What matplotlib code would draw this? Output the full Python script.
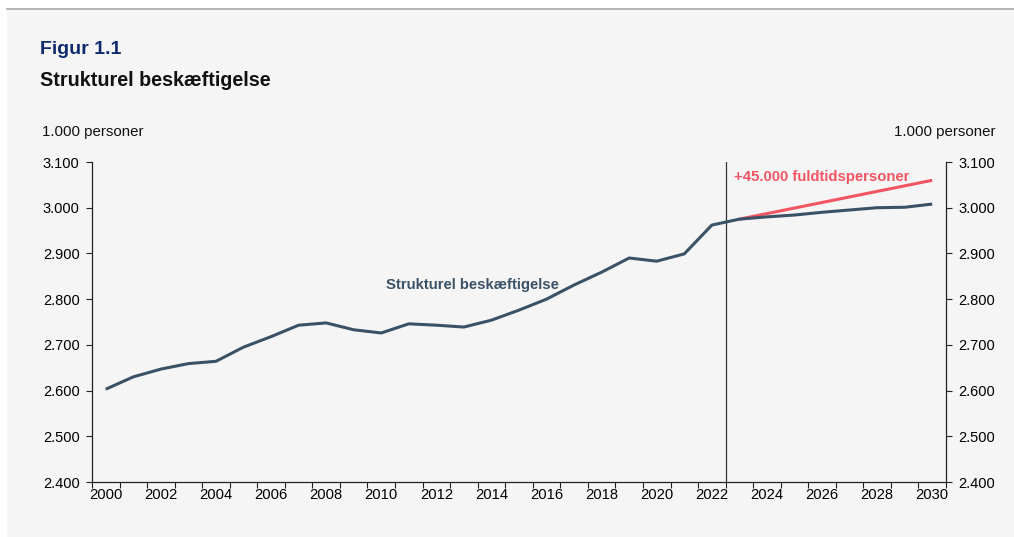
import matplotlib
matplotlib.use("Agg")
import matplotlib.pyplot as plt
from matplotlib.ticker import FixedLocator, FuncFormatter

plt.rcParams["font.family"] = ["Liberation Sans", "DejaVu Sans"]

# Structural employment, 1.000 persons
years = list(range(2000, 2031))
employment = [
    2603, 2630, 2647, 2659, 2664, 2695, 2718, 2743, 2748, 2733,
    2726, 2746, 2743, 2739, 2754, 2776, 2800, 2831, 2859, 2890,
    2883, 2899, 2962, 2975, 2980, 2984, 2990, 2995, 3000, 3001,
    3008,
]
# Red projection line (+45.000 full-time persons)
target_years = [2023, 2030]
target_values = [2975, 3060]

y_ticks = [2400, 2500, 2600, 2700, 2800, 2900, 3000, 3100]
label_years = list(range(2000, 2031, 2))
split_year = 2022.5

navy = "#0e2a6e"
slate = "#3b5266"
red = "#f25462"
bg = "#f5f5f5"

fig = plt.figure(figsize=(10.14, 5.37), dpi=100, facecolor="white")
# light gray panel with a thin gray rule on top
fig.patches.append(plt.Rectangle((7 / 1014, 0), 1, 1 - 10 / 537, transform=fig.transFigure,
                                 facecolor=bg, edgecolor="none", zorder=-2))
fig.add_artist(plt.Line2D([7 / 1014, 1], [1 - 9 / 537, 1 - 9 / 537], transform=fig.transFigure,
                          color="#a8a8a8", linewidth=1.2))

ax = fig.add_axes([92 / 1014, 1 - 482 / 537, (946 - 92) / 1014, 320 / 537])
ax.set_facecolor(bg)

ax.plot(years, employment, color=slate, linewidth=2.2, solid_capstyle="butt", zorder=3)
ax.plot(target_years, target_values, color=red, linewidth=2.2, solid_capstyle="butt", zorder=2)
ax.axvline(split_year, color="#333333", linewidth=0.9, zorder=1)

ax.set_xlim(years[0] - 0.5, years[-1] + 0.5)
ax.set_ylim(y_ticks[0], y_ticks[-1])

# category boundaries as ticks, labels on every other year
ax.xaxis.set_major_locator(FixedLocator([y - 0.5 for y in years] + [years[-1] + 0.5]))
ax.xaxis.set_major_formatter(FuncFormatter(lambda v, _: ""))
ax.xaxis.set_minor_locator(FixedLocator(label_years))
ax.xaxis.set_minor_formatter(FuncFormatter(lambda v, _: f"{int(round(v))}"))
ax.tick_params(axis="x", which="major", length=4, width=0.8, direction="out", color="#222222")
ax.tick_params(axis="x", which="minor", length=0, pad=4, labelsize=10.6)

thousands = FuncFormatter(lambda v, _: f"{v / 1000:.3f}")
ax.set_yticks(y_ticks)
ax.yaxis.set_major_formatter(thousands)
ax.tick_params(axis="y", length=4, width=0.8, direction="out", labelsize=10.5, pad=5,
               left=True, right=True, labelleft=True, labelright=True, color="#222222")

for side in ["top"]:
    ax.spines[side].set_visible(False)
for side in ["left", "right", "bottom"]:
    ax.spines[side].set_linewidth(0.9)
    ax.spines[side].set_color("#222222")

fig.text(40 / 1014, 1 - 50 / 537, "Figur 1.1", color=navy, fontsize=14, fontweight="bold",
         va="center", ha="left")
fig.text(40 / 1014, 1 - 81 / 537, "Strukturel beskæftigelse", color="#111111", fontsize=14.2,
         fontweight="bold", va="center", ha="left")
fig.text(42 / 1014, 1 - 132 / 537, "1.000 personer", fontsize=10.8, va="center", ha="left",
         color="#111111")
fig.text(996 / 1014, 1 - 132 / 537, "1.000 personer", fontsize=10.8, va="center", ha="right",
         color="#111111")

ax.text(2013.3, 2832, "Strukturel beskæftigelse", color=slate, fontsize=10.7, fontweight="bold",
        ha="center", va="center")
ax.text(2022.8, 3067, "+45.000 fuldtidspersoner", color=red, fontsize=10.7, fontweight="bold",
        ha="left", va="center")

fig.savefig("out.png", dpi=100, facecolor=fig.get_facecolor())
